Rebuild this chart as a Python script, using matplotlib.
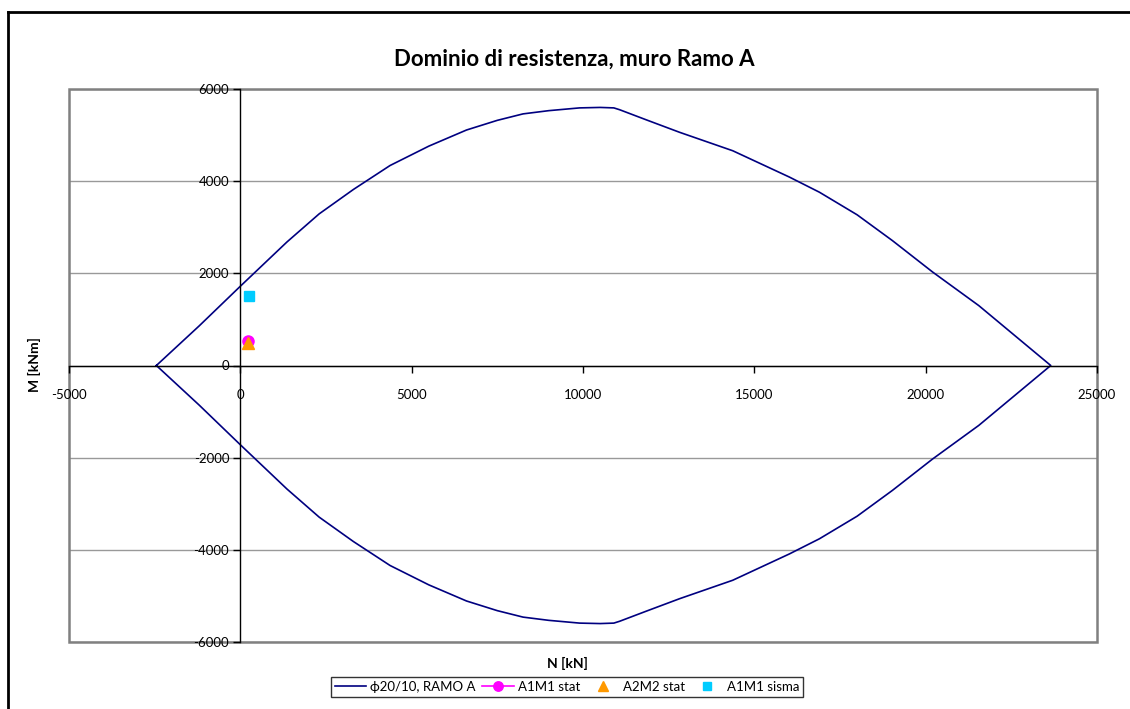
import matplotlib.pyplot as plt
from matplotlib.lines import Line2D
from matplotlib.patches import Rectangle

plt.rcParams['font.family'] = ['Lato', 'DejaVu Sans']

# upper branch of the interaction domain (N [kN], M [kNm]); lower branch is symmetric
n_upper = [-2450, -1200, 0, 1360, 2300, 3300, 4370, 5500, 6600, 7500, 8250,
           9000, 9900, 10500, 10900, 11070, 11850, 12820, 14370, 16020,
           16900, 18000, 19030, 20200, 21550, 23650]
m_upper = [0, 860, 1720, 2680, 3290, 3820, 4340, 4760, 5110, 5320, 5460,
           5530, 5590, 5600, 5590, 5550, 5330, 5060, 4660, 4090,
           3760, 3270, 2710, 2030, 1300, 0]

n_dom = n_upper + n_upper[::-1]
m_dom = m_upper + [-m for m in m_upper[::-1]]

a1m1_stat = (210, 530)
a2m2_stat = (210, 480)
a1m1_sisma = (250, 1500)

xticks = [-5000, 0, 5000, 10000, 15000, 20000, 25000]
yticks = [-6000, -4000, -2000, 0, 2000, 4000, 6000]

W, H = 1130, 709
fig = plt.figure(figsize=(W / 100, H / 100), dpi=100)
ax = fig.add_axes([69 / W, 1 - 642 / H, (1097 - 69) / W, (642 - 89) / H])

ax.plot(n_dom, m_dom, color='#000080', lw=1.2, label='ϕ20/10, RAMO A')
ax.plot(*a1m1_stat, color='#ff00ff', marker='o', ms=8, ls='-', lw=1.2,
        label='A1M1 stat')
ax.plot(*a2m2_stat, color='#ff9900', marker='^', ms=8, ls='none',
        label='A2M2 stat')
ax.plot(*a1m1_sisma, color='#00ccff', marker='s', ms=7, ls='none',
        label='A1M1 sisma')

ax.set_xlim(-5000, 25000)
ax.set_ylim(-6000, 6000)
ax.set_xticks(xticks)
ax.set_yticks(yticks)
ax.set_xticklabels([str(v) for v in xticks])
ax.set_yticklabels([str(v) for v in yticks])

for y in yticks:
    ax.axhline(y, color='#999999', lw=1, zorder=0)

ax.spines['left'].set_position(('data', 0))
ax.spines['bottom'].set_position(('data', 0))
for s in ('left', 'bottom'):
    ax.spines[s].set_color('black')
    ax.spines[s].set_linewidth(1)
for s in ('top', 'right'):
    ax.spines[s].set_visible(False)
ax.add_patch(Rectangle((0, 0), 1, 1, transform=ax.transAxes, fill=False,
                       edgecolor='#808080', lw=1.8, clip_on=False, zorder=0))

ax.tick_params(axis='both', direction='out', length=5, width=1,
               labelsize=9.5, colors='black')
ax.tick_params(axis='x', pad=12)
ax.tick_params(axis='y', pad=3)

fig.text(574 / W, 1 - 59 / H, 'Dominio di resistenza, muro Ramo A',
         ha='center', va='center', fontsize=16, fontweight='bold')
fig.text(567 / W, 1 - 663 / H, 'N [kN]', ha='center', va='center',
         fontsize=10, fontweight='bold')
fig.text(34 / W, 1 - 365 / H, 'M [kNm]', ha='center', va='center',
         rotation=90, fontsize=10, fontweight='bold')

leg = fig.legend(loc='center', bbox_to_anchor=(567 / W, 1 - 687 / H),
                 ncol=4, fontsize=9.5, frameon=True, fancybox=False,
                 handlelength=2.4, columnspacing=0.5, handletextpad=0.3,
                 borderpad=0.3, borderaxespad=0, markerscale=0.85)
leg.get_frame().set_edgecolor('black')
leg.get_frame().set_linewidth(1)

# outer chart border (left and top visible)
fig.add_artist(Line2D([8 / W, 8 / W], [0, 1 - 12 / H], color='black', lw=2))
fig.add_artist(Line2D([8 / W, 1], [1 - 12 / H, 1 - 12 / H], color='black', lw=2))

fig.savefig('out.png', dpi=100)
